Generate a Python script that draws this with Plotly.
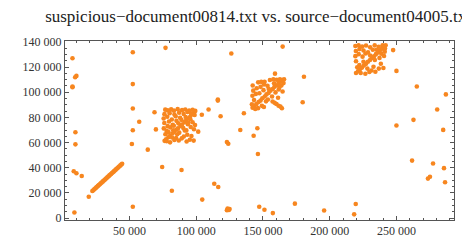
import plotly.graph_objects as go

# ---- data (character offsets) ----
line_x = [22200, 22900, 23600, 24300, 25000, 25700, 26400, 27100, 27800, 28500, 29200, 29900,
          30600, 31300, 32000, 32700, 33400, 34100, 34800, 35500, 36200, 36900, 37600, 38300,
          39000, 39700, 40400, 41100, 41800, 42500, 43200, 43900, 44500]
line_y = [21500, 22180, 22860, 23540, 24220, 24900, 25580, 26260, 26940, 27620, 28300, 28980,
          29660, 30340, 31020, 31700, 32380, 33060, 33740, 34420, 35100, 35780, 36460, 37140,
          37820, 38500, 39180, 39860, 40540, 41220, 41900, 42580, 43200]

c1_x = [76300, 77400, 79100, 80300, 82200, 83400, 85100, 86300, 88200, 89400, 91100, 92300, 94200,
        95300, 97100, 98200, 99300,
        76800, 78700, 81200, 83300, 86100, 89400, 91800, 94700, 97300,
        76200, 80100, 83700, 87200, 90600, 93400, 96100, 98800,
        75600, 78300, 81700, 84600, 87900, 92100, 95600,
        76100, 79600, 82400, 85200, 88900, 93700, 97300, 99100,
        75700, 77800, 80600, 83200, 86600, 90300, 92600, 95900, 98300,
        76900, 79200, 81900, 84900, 87300, 90700, 93300, 96400,
        77900, 80400, 83600, 86900, 89200, 92800, 95200, 98100,
        78600, 82800, 85800, 91400, 94100]
c1_y = [61400, 62700, 64300, 65200, 67300, 68400, 70200, 71300, 73300, 74400, 76300, 77400, 79200,
        80300, 82300, 83300, 85200,
        86200, 85600, 86400, 85400, 86600, 85800, 86300, 85500, 86100,
        82600, 83400, 82300, 83800, 82700, 84300, 83200, 81900,
        79200, 80600, 78400, 80900, 79800, 80400, 78600,
        75600, 76800, 74200, 77300, 78100, 74600, 76200, 73900,
        71300, 69300, 72100, 73400, 75300, 71600, 69700, 72400, 70600,
        66600, 68300, 64100, 63600, 67900, 64800, 66300, 65200,
        61100, 60200, 62100, 61700, 63400, 60900, 62300, 61600,
        73100, 69800, 66700, 69600, 75800]

c2_x = [142200, 143600, 145100, 146700, 148200, 149500, 151300, 152600, 154200, 155600, 157300,
        158600, 160200, 161600, 163200, 164400, 165800,
        142300, 142700, 142100, 143300, 141700, 144600, 145300, 146400, 148200, 147300, 150400,
        151200, 153400, 155200, 157800, 160300, 162700, 158300, 154300, 156800, 159400, 161800,
        163800, 165400, 149200, 152300, 150700, 146300, 144200,
        157200, 158700, 160100, 161700, 163100, 164200,
        153700, 161300, 164700, 148700, 150800, 162400]
c2_y = [87800, 89300, 90600, 92300, 93400, 95300, 96600, 98300, 99400, 101300, 102600,
        104300, 105400, 107300, 108400, 109700, 110300,
        105400, 101300, 97200, 93800, 90400, 98700, 103200, 107900, 104300, 99200, 101700,
        108400, 105100, 109800, 110400, 109900, 110300, 107200, 102700, 96600, 99900, 102200,
        105400, 107300, 89200, 92800, 88300, 87400, 86700,
        92700, 91600, 90700, 89300, 88600, 87300,
        94300, 95700, 100600, 108300, 106200, 104200]

c3_x = [219700, 221200, 222600, 224200, 225600, 227200, 228600, 230200, 231600, 233200, 234600,
        236200, 237600, 239200, 240600, 241900,
        219200, 221600, 224300, 227200, 230300, 233700, 236700, 239600, 241400,
        219600, 222300, 225300, 228700, 232300, 235200, 238700, 241200,
        219200, 221700, 224600, 226800, 230300, 233800, 237300, 240700,
        219700, 222200, 220600, 225300, 228200, 231300, 234200, 236800, 240200, 238300,
        223200, 226700, 229700, 232800]
c3_y = [115300, 116700, 118300, 119600, 121300, 122600, 124300, 125600, 127300, 128600, 130300,
        131600, 133300, 134600, 136300, 137300,
        136800, 137300, 136300, 137200, 135700, 137300, 136200, 137400, 134700,
        132800, 134300, 133200, 131700, 133800, 133700, 130700, 132300,
        128700, 130300, 128300, 130800, 129200, 125700, 127300, 128800,
        124700, 121700, 119800, 124300, 118800, 117300, 116300, 118800, 119300, 122700,
        115300, 114700, 116200, 120300]

iso_x = [7300, 10250, 9300, 7300, 7300, 52500, 52500, 52500, 68750, 57300, 52500, 69800,
         77000, 126300, 116200, 116200, 109250, 104200, 118250, 135700, 133000, 145800,
         164750, 159000, 180700, 179750, 247500, 250000, 265250, 287000, 280500, 262750,
         250000, 285000, 9500, 9500, 51800, 63700, 74500, 8250, 10250, 14250, 19500, 8750,
         52500, 143000, 123000, 124000, 146200, 89000, 81750, 113500, 116500, 104500,
         123000, 124500, 125000, 123500, 124000,
         147200, 151100, 157400, 173900, 195800, 218300, 219500, 101500,
         261700, 277400, 285600, 273600, 275100, 286400]
iso_y = [127000, 113000, 112000, 104600, 104000, 131800, 106500, 87100, 84100, 76600, 69800, 70500,
         135300, 130800, 94300, 93400, 86300, 82100, 80900, 83300, 70000, 71400,
         136300, 114800, 112300, 92100, 133500, 117000, 104600, 98300, 86300, 78100,
         73600, 70100, 68200, 58600, 58900, 54400, 40600, 37200, 35700, 33500, 17000, 4500,
         9000, 65400, 60400, 59100, 50900, 38200, 21700, 27300, 24700, 14700,
         6200, 6500, 7300, 7600, 6900,
         9000, 6700, 4000, 11500, 6000, 3000, 11200, 68700,
         45700, 43400, 39700, 31400, 32900, 28500]

x_ticks = [50000, 100000, 150000, 200000, 250000]
x_labels = ["50 000", "100 000", "150 000", "200 000", "250 000"]
y_ticks = [0, 20000, 40000, 60000, 80000, 100000, 120000, 140000]
y_labels = ["0", "20 000", "40 000", "60 000", "80 000", "100 000", "120 000", "140 000"]

title = "suspicious\u2212document00814.txt vs. source\u2212document04005.txt"

# ---- figure ----
orange = "#F7861F"
fig = go.Figure()
for xs, ys in [(line_x, line_y), (c1_x, c1_y), (c2_x, c2_y), (c3_x, c3_y), (iso_x, iso_y)]:
    fig.add_trace(go.Scatter(x=xs, y=ys, mode="markers",
                             marker=dict(size=4.6, color=orange, line=dict(width=0)),
                             showlegend=False, hoverinfo="skip"))

axis_common = dict(showgrid=False, zeroline=False, showline=True, linecolor="#555",
                   linewidth=1, mirror="allticks", ticks="inside", ticklen=4,
                   tickcolor="#555", tickwidth=1,
                   tickfont=dict(family="Liberation Serif", size=12, color="#333"))

fig.update_layout(
    width=470, height=242,
    margin=dict(l=57, r=24, t=33, b=19),
    paper_bgcolor="white", plot_bgcolor="white",
    title=dict(text=title, x=250 / 470, xref="container", xanchor="center",
               y=1 - 2 / 242, yref="container", yanchor="top",
               font=dict(family="Liberation Serif", size=17, color="#222")),
    xaxis=dict(range=[1700, 293100], tickvals=x_ticks, ticktext=x_labels,
               minor=dict(ticks="inside", ticklen=2, dtick=10000, tick0=0, tickcolor="#555"),
               **axis_common),
    yaxis=dict(range=[-1500, 140750], tickvals=y_ticks, ticktext=y_labels,
               minor=dict(ticks="inside", ticklen=2, dtick=5000, tick0=0, tickcolor="#555"),
               **axis_common),
)

fig.write_html("out.html")
